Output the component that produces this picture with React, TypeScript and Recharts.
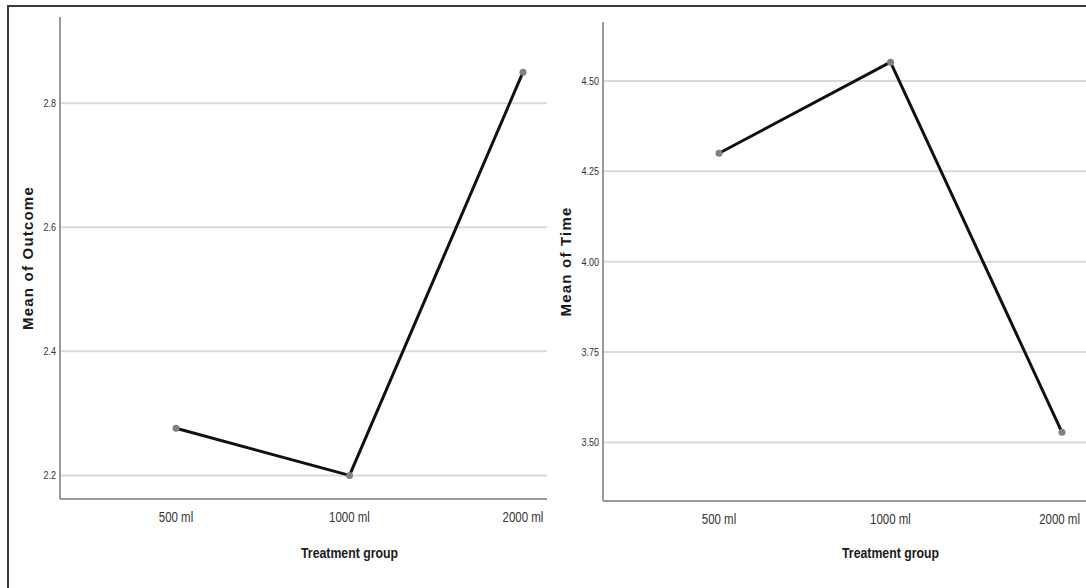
import React from 'react';
import { LineChart, Line, XAxis, YAxis, CartesianGrid, Label } from 'recharts';

const GROUPS = ['500 ml', '1000 ml', '2000 ml'];
const OUTCOME_MEANS = [2.276, 2.2, 2.85];
const TIME_MEANS = [4.3, 4.552, 3.528];
const OUTCOME_TICKS = [2.2, 2.4, 2.6, 2.8];
const TIME_TICKS = [3.5, 3.75, 4.0, 4.25, 4.5];

const outcomeData = GROUPS.map((group, i) => ({ group, value: OUTCOME_MEANS[i] }));
const timeData = GROUPS.map((group, i) => ({ group, value: TIME_MEANS[i] }));

const SANS = '"Liberation Sans", Arial, sans-serif';
// squeeze factor used to fake an Arial Narrow look
const NARROW_X = 0.82;

// tick text drawn horizontally condensed around its anchor point
const NarrowTick = (props: any) => {
  const { x, y, payload, textAnchor, fontSize, fmt, dy } = props;
  return (
    <text
      transform={`translate(${x},${y}) scale(${NARROW_X},1)`}
      textAnchor={textAnchor}
      dominantBaseline="central"
      dy={dy}
      fontFamily={SANS}
      fontSize={fontSize}
      fill="#333"
    >
      {fmt ? fmt(payload.value) : payload.value}
    </text>
  );
};

const xTitle = (dx: number, y: number) => (props: any) => {
  const vb = props.viewBox;
  const cx = vb.x + vb.width / 2 + dx;
  return (
    <text
      transform={`translate(${cx},${y}) scale(${NARROW_X},1)`}
      textAnchor="middle"
      dominantBaseline="central"
      fontFamily={SANS}
      fontSize={15}
      fontWeight="bold"
      fill="#1a1a1a"
    >
      Treatment group
    </text>
  );
};

interface PanelProps {
  data: { group: string; value: number }[];
  ticks: number[];
  domain: [number, number];
  digits: number;
  yTitle: string;
  left: number;
  width: number;
  top: number;
  bottom: number;
  axisWidth: number;
  marginRight: number;
  titleDx: number;
  xTitleDx: number;
}

const MeansPanel: React.FC<PanelProps> = (p) => (
  <div style={{ position: 'absolute', left: p.left, top: 0 }}>
    <LineChart
      width={p.width}
      height={588}
      data={p.data}
      margin={{ top: p.top, right: p.marginRight, left: 0, bottom: p.bottom }}
    >
      <CartesianGrid vertical={false} stroke="#dadada" strokeWidth={2} syncWithTicks />
      <XAxis
        dataKey="group"
        padding={{ left: 116, right: 24 }}
        height={60}
        stroke="#9a9a9a"
        strokeWidth={2}
        tickLine={false}
        tickSize={0}
        tickMargin={0}
        tick={<NarrowTick fontSize={14} dy={18} />}
      >
        <Label content={xTitle(p.xTitleDx, 553)} />
      </XAxis>
      <YAxis
        type="number"
        domain={p.domain}
        ticks={p.ticks}
        allowDataOverflow
        width={p.axisWidth}
        stroke="#9a9a9a"
        strokeWidth={2}
        tickLine={false}
        tickSize={0}
        tickMargin={4}
        tick={<NarrowTick fontSize={11} dy={0} fmt={(v: number) => v.toFixed(p.digits)} />}
      >
        <Label
          value={p.yTitle}
          angle={-90}
          position="center"
          dx={p.titleDx}
          style={{ fontFamily: SANS, fontSize: 15, fontWeight: 'bold', fill: '#1a1a1a', letterSpacing: 1.2 }}
        />
      </YAxis>
      <Line
        type="linear"
        dataKey="value"
        stroke="#111"
        strokeWidth={3}
        strokeLinejoin="round"
        dot={{ r: 3.5, fill: '#808080', stroke: 'none' }}
        activeDot={false}
        isAnimationActive={false}
      />
    </LineChart>
  </div>
);

export default function App() {
  return (
    <div style={{ position: 'absolute', left: 0, top: 0, width: 1086, height: 588, background: '#fff', overflow: 'hidden' }}>
      <div
        style={{
          position: 'absolute',
          left: 7,
          top: 5,
          width: 1100,
          height: 600,
          borderTop: '2px solid #3c3c3c',
          borderLeft: '2px solid #3c3c3c',
        }}
      />
      <MeansPanel
        data={outcomeData}
        ticks={OUTCOME_TICKS}
        domain={[2.162, 2.939]}
        digits={1}
        yTitle="Mean of Outcome"
        left={0}
        width={560}
        top={17}
        bottom={29}
        axisWidth={60}
        marginRight={13}
        titleDx={-2}
        xTitleDx={46}
      />
      <MeansPanel
        data={timeData}
        ticks={TIME_TICKS}
        domain={[3.338, 4.663]}
        digits={2}
        yTitle="Mean of Time"
        left={540}
        width={546}
        top={22}
        bottom={27}
        axisWidth={63}
        marginRight={0}
        titleDx={-6}
        xTitleDx={46}
      />
    </div>
  );
}
